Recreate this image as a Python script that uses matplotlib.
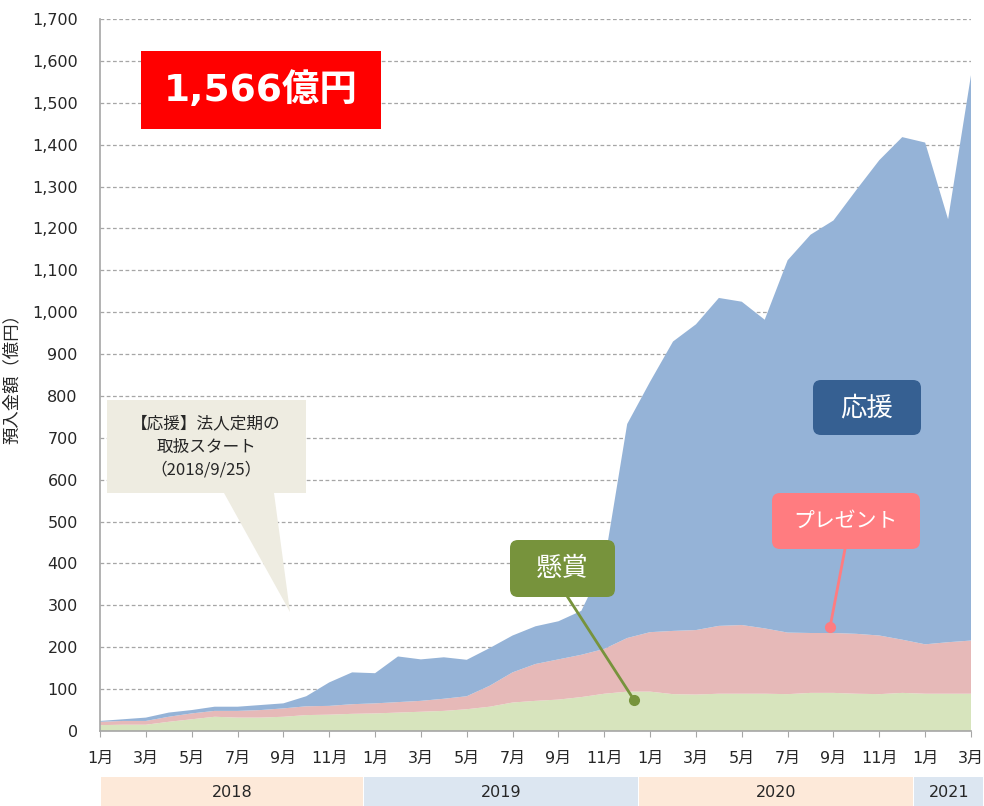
import matplotlib
matplotlib.use("Agg")
import matplotlib.pyplot as plt
import matplotlib.transforms as mtransforms
from matplotlib.patches import FancyBboxPatch, Polygon, Rectangle
import numpy as np

plt.rcParams['font.family'] = ['DejaVu Sans', 'Noto Sans CJK JP']
CJK = ['Noto Sans CJK JP', 'DejaVu Sans']

# ---- data ----
months = ["1月", "2月", "3月", "4月", "5月", "6月", "7月", "8月", "9月", "10月", "11月", "12月"] * 3 + ["1月", "2月", "3月"]
years_of_month = [2018] * 12 + [2019] * 12 + [2020] * 12 + [2021] * 3
year_labels = ["2018", "2019", "2020", "2021"]

kensho = [14, 15, 15, 22, 28, 34, 32, 32, 34, 38, 39, 41, 42, 44, 46, 48, 52, 58, 68, 72,
          75, 81, 89, 94, 94, 88, 87, 89, 89, 89, 88, 91, 91, 89, 88, 91, 89, 89, 89]
present = [8, 9, 9, 12, 14, 14, 16, 18, 20, 21, 21, 23, 24, 25, 26, 29, 31, 50, 72, 88,
           96, 101, 107, 128, 142, 151, 154, 162, 164, 156, 147, 143, 143, 143, 140, 127, 118, 123, 127]
ouen = [2, 4, 8, 10, 8, 10, 10, 12, 12, 24, 56, 76, 72, 109, 99, 99, 87, 90, 88, 90,
        91, 105, 204, 511, 598, 691, 730, 783, 772, 737, 889, 951, 985, 1060, 1135, 1200, 1198, 1010, 1350]

series_names = ["懸賞", "プレゼント", "応援"]
total_label = "1,566億円"
ylabel = "預入金額（億円）"
callout_text = "【応援】法人定期の\n取扱スタート\n（2018/9/25）"

# ---- figure ----
W, H = 984, 806
fig = plt.figure(figsize=(W / 100, H / 100), dpi=100)
ax = fig.add_axes([100 / W, 75 / H, 871 / W, 712 / H])

x = np.arange(len(months))
ax.stackplot(x, kensho, present, ouen,
             colors=["#D7E4BD", "#E6B9B8", "#95B3D7"], linewidth=0, zorder=2)

ax.set_xlim(0, len(months) - 1)
ax.set_ylim(0, 1700)
ax.set_yticks(np.arange(0, 1701, 100))
ax.set_yticklabels([f"{v:,}" for v in range(0, 1701, 100)])
ax.yaxis.grid(True, linestyle=(0, (3, 2)), color="#A6A6A6", linewidth=0.9, zorder=1)
ax.set_axisbelow(True)
ax.set_xticks(x[::2])
ax.set_xticklabels(months[::2])
ax.tick_params(axis="y", length=0, pad=16, labelsize=11.5, labelcolor="#262626")
ax.tick_params(axis="x", length=4, color="#A6A6A6", pad=10, labelsize=11.5, labelcolor="#262626")
for s in ["top", "right"]:
    ax.spines[s].set_visible(False)
for s in ["left", "bottom"]:
    ax.spines[s].set_color("#A6A6A6")
    ax.spines[s].set_linewidth(1.2)
    ax.spines[s].set_zorder(3)

ax.set_ylabel(ylabel, fontsize=12.5, color="#262626", labelpad=8, family=CJK)

# ---- year bands ----
trans = mtransforms.blended_transform_factory(ax.transData, ax.transAxes)
band_colors = {"2018": "#FDE9D9", "2019": "#DCE6F1", "2020": "#FDE9D9", "2021": "#DCE6F1"}
ym = np.array(years_of_month)
for yl in year_labels:
    idx = np.where(ym == int(yl))[0]
    start = max(idx[0] - 0.5, 0)
    end = idx[-1] + 0.5 if idx[-1] < len(months) - 1 else len(months) - 1 + 0.57
    r = Rectangle((start + 0.03, -0.105), end - start - 0.06, 0.04, transform=trans,
                  facecolor=band_colors[yl], edgecolor="none", clip_on=False)
    ax.add_patch(r)
    ax.text((start + end) / 2, -0.087, yl, transform=trans, ha="center", va="center",
            fontsize=11.5, color="#262626", clip_on=False)

# ---- annotations (pixel transform) ----
px = mtransforms.Affine2D().scale(1 / W, -1 / H).translate(0, 1) + fig.transFigure

def ptext(xp, yp, s, **kw):
    fig.text(xp / W, 1 - yp / H, s, ha="center", va="center", **kw)

# red total box
fig.patches.append(Rectangle((141, 51), 240, 78, transform=px, facecolor="#FF0000",
                             edgecolor="none"))
ptext(261, 91, total_label, fontsize=27, fontweight="bold", color="white")

# callout
poly = Polygon([(107, 400), (306, 400), (306, 493), (274, 493), (290, 612),
                (224, 493), (107, 493)], closed=True, transform=px,
               facecolor="#EEECE1", edgecolor="none")
fig.patches.append(poly)
ptext(206, 447, callout_text, fontsize=12, color="#262626", linespacing=1.5, family=CJK)

def rbox(x0, y0, x1, y1, color, text, fs):
    b = FancyBboxPatch((x0, y0), x1 - x0, y1 - y0,
                       boxstyle="round,pad=0,rounding_size=8", transform=px,
                       facecolor=color, edgecolor="none")
    fig.patches.append(b)
    ptext((x0 + x1) / 2, (y0 + y1) / 2, text, fontsize=fs, color="white", family=CJK)

def leader(xp, yp, xd, yd, color):
    tip = ax.transData.transform((xd, yd))
    tip_fig = fig.transFigure.inverted().transform(tip)
    fig.add_artist(plt.Line2D([xp / W, tip_fig[0]], [1 - yp / H, tip_fig[1]],
                              color=color, linewidth=2))
    ax.plot([xd], [yd], "o", color=color, markersize=7, zorder=5, clip_on=False)

leader(845, 549, 31.85, 248, "#FF7C80")
leader(567, 596, 23.3, 74, "#77933C")

rbox(813, 380, 921, 435, "#366092", series_names[2], 19)
rbox(772, 493, 920, 549, "#FF7C80", series_names[1], 15)
rbox(510, 540, 615, 597, "#77933C", series_names[0], 19)

fig.savefig("out.png", dpi=100)
